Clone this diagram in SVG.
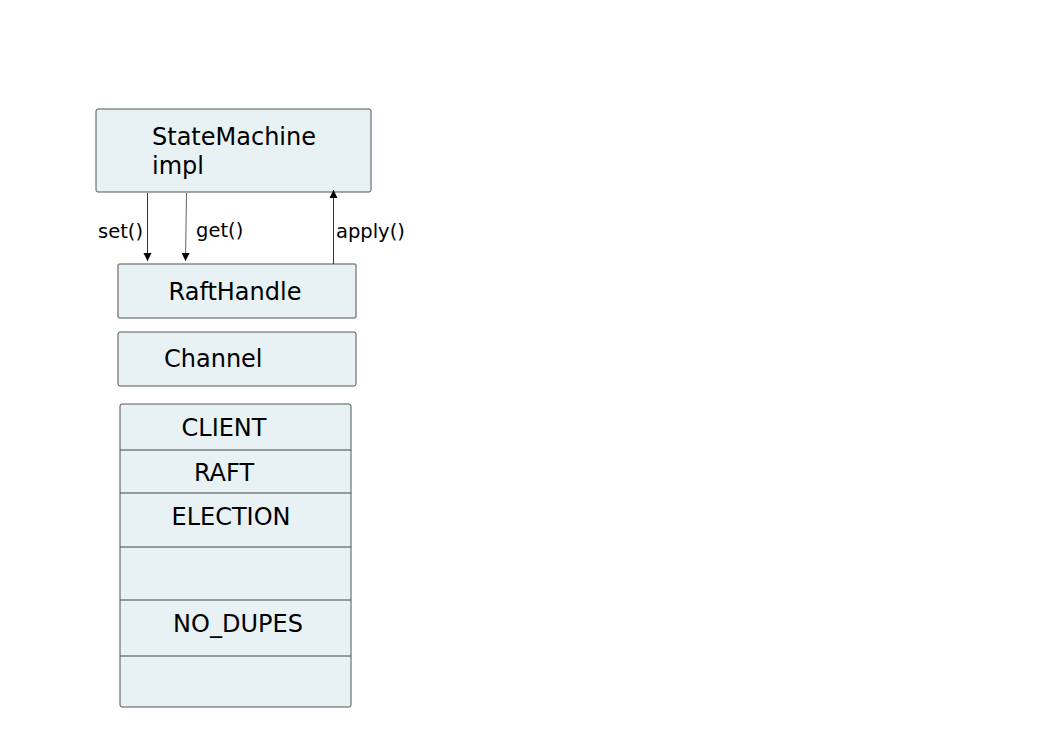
<svg xmlns="http://www.w3.org/2000/svg" width="1053" height="745" viewBox="0 0 1053 745">
<defs>
<style>
.box{fill:#e8f1f3;stroke:#555;stroke-width:1}
.box2{fill:#e8f1f3;stroke:#888;stroke-width:1.5}
.t{font-family:"DejaVu Sans",sans-serif;font-size:24px;fill:#000}
.lbl{font-family:"DejaVu Sans",sans-serif;font-size:19.5px;fill:#000}
.div{stroke:#444;stroke-width:1}
.c{stroke:#333;stroke-width:1;fill:none}
</style>
<marker id="ah" viewBox="0 0 10 10" refX="10" refY="5" markerWidth="8" markerHeight="10" markerUnits="userSpaceOnUse" orient="auto">
<path d="M0,0 L10,5 L0,10 Z" fill="#000"/>
</marker>
</defs>
<rect width="1053" height="745" fill="#fff"/>
<g id="statemachine">
<rect class="box" x="96" y="109" width="275" height="83" rx="2"/>
<text class="t" x="152" y="145">StateMachine</text>
<text class="t" x="152" y="174">impl</text>
</g>
<g id="rafthandle">
<rect class="box2" x="118" y="264" width="238" height="54" rx="2"/>
<text class="t" x="235" y="300" text-anchor="middle">RaftHandle</text>
</g>
<g id="channel">
<rect class="box" x="118" y="332" width="238" height="54" rx="2"/>
<text class="t" x="164" y="366.5">Channel</text>
</g>
<g id="stack">
<rect class="box" x="120" y="404" width="231" height="303" rx="2"/>
<line class="div" x1="120" y1="450" x2="351" y2="450"/>
<line class="div" x1="120" y1="493" x2="351" y2="493"/>
<line class="div" x1="120" y1="547" x2="351" y2="547"/>
<line class="div" x1="120" y1="600" x2="351" y2="600"/>
<line class="div" x1="120" y1="656" x2="351" y2="656"/>
<text class="t" x="224" y="436" text-anchor="middle">CLIENT</text>
<text class="t" x="224" y="481" text-anchor="middle">RAFT</text>
<text class="t" x="231" y="525" text-anchor="middle">ELECTION</text>
<text class="t" x="238" y="632" text-anchor="middle">NO_DUPES</text>
</g>
<g id="connectors">
<line class="c" x1="147.5" y1="193" x2="147.5" y2="261" marker-end="url(#ah)"/>
<line class="c" x1="186.5" y1="193" x2="185.5" y2="261" marker-end="url(#ah)" style="stroke:#666"/>
<line class="c" x1="333.5" y1="264" x2="333.5" y2="190" marker-end="url(#ah)"/>
<text class="lbl" x="98" y="238">set()</text>
<text class="lbl" x="196" y="237">get()</text>
<text class="lbl" x="336" y="238">apply()</text>
</g>
</svg>
